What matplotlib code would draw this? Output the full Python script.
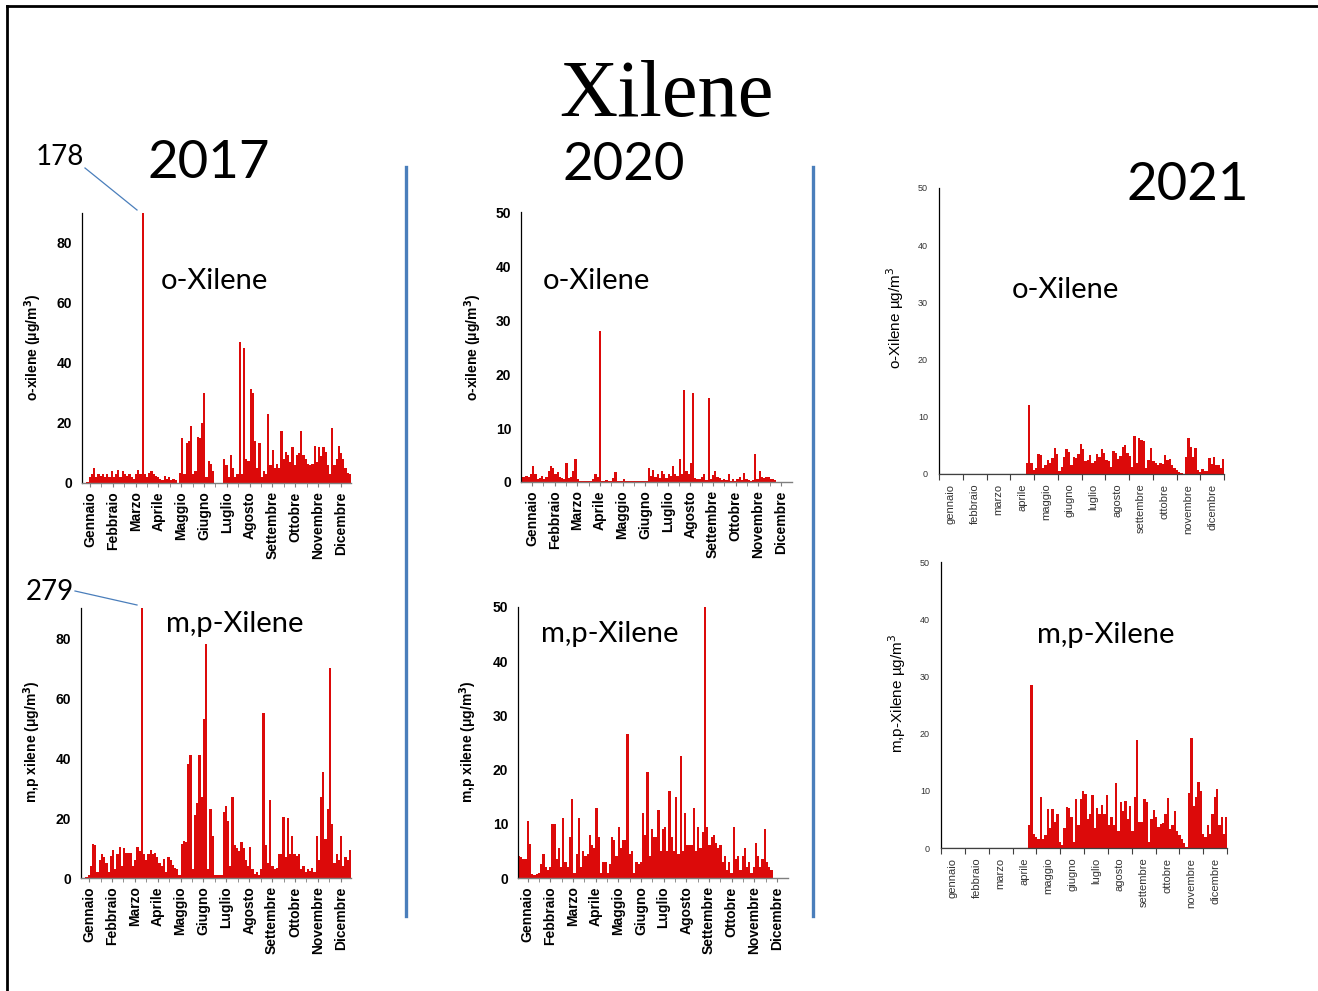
import numpy as np
import matplotlib
matplotlib.use("Agg")
import matplotlib.pyplot as plt
from matplotlib.lines import Line2D

# ---------------- data (3-day bins, µg/m3) ----------------
months_2017 = ['Gennaio', 'Febbraio', 'Marzo', 'Aprile', 'Maggio', 'Giugno',
               'Luglio', 'Agosto', 'Settembre', 'Ottobre', 'Novembre', 'Dicembre']
months_2021 = ['gennaio', 'febbraio', 'marzo', 'aprile', 'maggio', 'giugno',
               'luglio', 'agosto', 'settembre', 'ottobre', 'novembre', 'dicembre']

o_xyl_2017 = [0, 0, 0.5, 2, 3, 5, 2, 3, 2.5, 3, 2, 3, 2, 4, 2, 3, 4.5, 2, 4, 3,
              2.5, 3, 2, 1.5, 3, 4.5, 3, 178, 3, 2, 3.5, 4, 3, 2.5, 2, 1.5, 1, 2.5, 1.5, 2,
              1, 1.5, 1, 0, 3.5, 15, 3, 13.5, 14, 19, 3, 4, 15.5, 15, 20, 30, 2, 7.5, 6.5, 4,
              0, 0, 0, 0, 8, 6, 2, 9.5, 5, 2, 3, 47, 3, 45, 8, 7.5, 31.5, 30, 14, 5,
              13.5, 2, 4, 3, 23, 6, 11, 5, 6.5, 5, 17.5, 8, 10.5, 9.5, 7, 12, 6, 9.5, 10, 17.5,
              9.5, 8, 6.5, 6, 6.5, 12.5, 7, 12, 9, 12, 10.5, 6, 3, 18.5, 6, 8, 12.5, 10, 8, 5,
              3.5, 3]

mp_xyl_2017 = [0, 0, 0.5, 1, 4, 11.5, 11, 2, 6, 8, 7, 5, 2, 7.5, 9.5, 3, 8, 10.5, 4, 10,
               8.5, 8.5, 8.5, 4, 6, 10.5, 9, 279, 8, 6, 8, 9.5, 8, 8.5, 7, 5, 4, 6.5, 2, 7,
               6, 4.5, 3.5, 3, 1, 11.5, 12.5, 12, 38, 41, 3, 21, 25, 41, 27, 53, 78, 3, 23, 14,
               1, 1, 1, 1, 22, 24, 19, 4, 27, 11, 10, 9, 12, 10, 6, 4, 10.5, 3, 1.5, 2,
               1, 3, 55, 11, 5, 26, 4, 3, 3.5, 8, 8, 20.5, 7, 20, 8, 14, 8, 7.5, 8, 3,
               4, 2, 3, 2.5, 3.5, 2, 14, 6, 27, 35.5, 13, 23, 70, 18, 5, 8, 6, 14, 4, 7,
               6, 9.5]

o_xyl_2020 = [1, 1, 1.2, 1, 1.5, 3, 1.5, 0.5, 0.8, 1.2, 0.6, 1, 2, 3, 2.6, 1.5, 1.8, 1, 0.7, 0.5,
              3.6, 0.8, 1, 2, 4.3, 0.5, 0.2, 0.1, 0.1, 0.1, 0.1, 0.2, 0.5, 1.5, 1, 28, 0.2, 0.1, 0.3, 0.1,
              0.1, 0.8, 1.8, 0.2, 0.1, 0.1, 0.5, 0.1, 0.1, 0.1, 0.1, 0.1, 0.1, 0.1, 0.1, 0.1, 0.1, 2.5, 1.2, 2.3,
              1, 1.5, 0.8, 2.1, 1.4, 0.8, 1.5, 1.2, 3, 1.5, 1.2, 4.2, 1.5, 17, 2, 1.5, 3.5, 16.5, 0.8, 0.6,
              0.6, 1, 1.5, 0.4, 15.5, 0.5, 1.3, 2, 1, 0.8, 0.4, 0.6, 0.3, 1.5, 0.2, 0.5, 0.1, 0.5, 1, 0.3,
              1.7, 0.6, 0.4, 0.2, 0.3, 5.2, 0.5, 2, 1, 0.8, 0.9, 1, 0.5, 0.5, 0.4, 0, 0, 0, 0, 0,
              0, 0]

mp_xyl_2020 = [4, 3.8, 3.5, 3.5, 10.5, 6.3, 0.7, 0.5, 0.8, 1, 2.5, 4.5, 2, 1.5, 2, 10, 10, 3.5, 5.5, 2,
               11, 3, 2, 7.5, 14.5, 1, 4.5, 11, 2, 5, 4, 4.5, 8, 6, 5.5, 13, 7.5, 1, 3, 3,
               1, 2.5, 7.5, 7, 4, 9.5, 5.5, 7, 7, 26.5, 4.5, 5, 1, 3, 2.5, 3, 12, 8, 19.5, 4,
               9, 7.5, 7.5, 12.5, 5, 9, 9.5, 5, 16, 7.5, 5, 15, 4.5, 22.5, 5, 12, 6, 6, 6, 13,
               5, 9.5, 5.5, 8.5, 50, 9.5, 6, 7.5, 8, 6.5, 5.5, 6, 3, 4, 1.5, 3, 1, 9.5, 3.5, 4,
               1.5, 4, 5.5, 2, 3, 1, 2, 6.5, 4, 2, 3.5, 9, 3, 2, 1.5, 0, 0, 0, 0, 0,
               0, 0]

o_xyl_2021 = [0, 0, 0, 0, 0, 0, 0, 0, 0, 0, 0, 0, 0, 0, 0, 0, 0, 0, 0, 0,
              0, 0, 0, 0, 0, 0, 0, 0, 0, 0, 0, 0, 0, 0, 0, 0, 0, 2, 12, 2,
              0.7, 1, 3.5, 3.3, 1, 1.5, 2.4, 2, 2.8, 4.6, 3.5, 0.5, 1.2, 3, 4.3, 3.8, 1.5, 3, 2.8, 3.5,
              5.3, 4.3, 2.2, 2.5, 3.3, 2, 2.3, 3.5, 3, 4.3, 3.6, 2.5, 2.3, 1.2, 4, 3.6, 2.6, 3.2, 4.7, 5.1,
              3.7, 3.2, 1.2, 6.6, 2, 6.3, 6, 5.8, 1, 2.5, 4.5, 2.2, 2, 1.5, 2, 1.8, 3.3, 2.5, 2.7, 1.5,
              1, 0.7, 0.4, 0.1, 0, 3, 6.3, 4.7, 3, 4.5, 0.7, 0.4, 0.8, 0.5, 0.5, 2.8, 1.8, 3, 1.5, 1.5,
              1, 2.7]

mp_xyl_2021 = [0, 0, 0, 0, 0, 0, 0, 0, 0, 0, 0, 0, 0, 0, 0, 0, 0, 0, 0, 0,
               0, 0, 0, 0, 0, 0, 0, 0, 0, 0, 0, 0, 0, 0, 0, 0, 0, 4, 28.5, 2.5,
               2, 1.5, 9, 1.5, 2.2, 6.8, 3.5, 6.8, 4.5, 6, 1, 0.5, 3.5, 7.2, 7, 5.5, 1, 8.5, 4, 8.5,
               10, 9.5, 5, 6, 9.3, 3.5, 7, 6, 7.5, 6, 9.3, 4, 5.5, 4, 11.3, 3, 8, 6.5, 8.3, 5,
               7.4, 3, 9, 18.8, 4.6, 4.5, 8.5, 8, 1, 5, 6.7, 5.5, 3.7, 4.2, 4.3, 6, 8.7, 3.3, 4, 6.5,
               3, 2.2, 1.5, 0.8, 0.2, 9.7, 19.3, 7.4, 9, 11.6, 10, 2.5, 2, 4, 2.5, 6, 9, 10.3, 4, 5.5,
               2.5, 5.5]

# ---------------- layout ----------------
W, H = 1318, 991
RED = '#DC0A0A'
BLUE = '#4A7EBB'
fig = plt.figure(figsize=(W / 100, H / 100), dpi=100)


def rect(l, t, r, b):
    return [l / W, 1 - b / H, (r - l) / W, (b - t) / H]


def ftext(x, y, s, **kw):
    fig.text(x / W, 1 - y / H, s, **kw)


BIN = 3


def bars(ax, vals):
    x = np.arange(len(vals)) * BIN
    ax.bar(x, vals, width=BIN, align='edge', color=RED, linewidth=0)


def style_old(ax, vals, ymax, ystep, lab0, lab1, ylabel_xy, ylabel):
    bars(ax, vals)
    ax.set_xlim(0, 366)
    ax.set_ylim(0, ymax)
    for s in ['top', 'right']:
        ax.spines[s].set_visible(False)
    ax.spines['left'].set_color('black')
    ax.spines['left'].set_linewidth(0.9)
    ax.spines['bottom'].set_color('#7f7f7f')
    ax.spines['bottom'].set_linewidth(1.0)
    ax.set_yticks(np.arange(0, 81 if ymax == 90 else ymax + 1, ystep))
    ax.tick_params(axis='y', length=0, pad=7)
    for t in ax.get_yticklabels():
        t.set_fontfamily('Liberation Sans')
        t.set_fontweight('bold')
        t.set_fontsize(10)
    pos = np.linspace(lab0, lab1, 12)
    ax.set_xticks(pos)
    ax.set_xticks((pos[:-1] + pos[1:]) / 2, minor=True)
    ax.set_xticklabels(months_2017, rotation=90, fontfamily='Liberation Sans',
                       fontweight='bold', fontsize=10)
    ax.tick_params(axis='x', which='both', length=3, color='#7f7f7f', pad=3)
    ftext(ylabel_xy[0], ylabel_xy[1], ylabel, rotation=90, ha='center', va='center',
          fontfamily='Liberation Sans', fontweight='bold', fontsize=10)


def style_new(ax, vals, ylabel_xy, ylabel):
    bars(ax, vals)
    ax.axhline(0, color='#a0a0a0', lw=1.0, zorder=0)
    ax.set_xlim(0, 365)
    ax.set_ylim(0, 50)
    for s in ['top', 'right']:
        ax.spines[s].set_visible(False)
    ax.spines['left'].set_color('black')
    ax.spines['left'].set_linewidth(0.9)
    ax.spines['bottom'].set_color('#404040')
    ax.spines['bottom'].set_linewidth(0.9)
    ax.set_yticks(np.arange(0, 51, 10))
    ax.tick_params(axis='y', length=0, pad=8, labelsize=6.5, labelcolor='#333333')
    edges = np.linspace(0, 365, 13)
    ax.set_xticks(edges)
    ax.set_xticklabels([])
    ax.set_xticks((edges[:-1] + edges[1:]) / 2, minor=True)
    ax.set_xticklabels(months_2021, minor=True, rotation=90, fontfamily='Liberation Sans',
                       fontsize=8, color='#333333')
    ax.tick_params(axis='x', which='major', length=4, color='#404040')
    ax.tick_params(axis='x', which='minor', length=0, pad=7)
    for t in ax.get_yticklabels():
        t.set_fontfamily('Liberation Sans')
    ftext(ylabel_xy[0], ylabel_xy[1], ylabel, rotation=90, ha='center', va='center',
          fontfamily='Liberation Sans', fontsize=11)


ax1 = fig.add_axes(rect(82, 213, 351, 483))
style_old(ax1, o_xyl_2017, 90, 20, 11, 352, (33, 347), r'o-xilene (μg/m$^{\mathbf{3}}$)')
ax2 = fig.add_axes(rect(81, 608, 351, 878))
style_old(ax2, mp_xyl_2017, 90, 20, 11, 352, (32, 742), r'm,p xilene (μg/m$^{\mathbf{3}}$)')
ax3 = fig.add_axes(rect(521, 212, 792, 482))
style_old(ax3, o_xyl_2020, 50, 10, 15, 351, (473, 347), r'o-xilene (μg/m$^{\mathbf{3}}$)')
ax4 = fig.add_axes(rect(518, 607, 788, 878))
style_old(ax4, mp_xyl_2020, 50, 10, 13, 351, (468, 742), r'm,p xilene (μg/m$^{\mathbf{3}}$)')
ax5 = fig.add_axes(rect(939, 188, 1224, 474))
style_new(ax5, o_xyl_2021, (895, 318), r'o-Xilene µg/m$^{3}$')
ax6 = fig.add_axes(rect(941, 562, 1227, 848))
style_new(ax6, mp_xyl_2021, (897, 693), r'm,p-Xilene µg/m$^{3}$')

# ---------------- texts ----------------
SANS = 'Lato'
ftext(666, 116, 'Xilene', ha='center', va='baseline', fontfamily='Liberation Serif', fontsize=58)
ftext(209, 178, '2017', ha='center', va='baseline', fontfamily=SANS, fontsize=38)
ftext(624, 180, '2020', ha='center', va='baseline', fontfamily=SANS, fontsize=38)
ftext(1188, 200, '2021', ha='center', va='baseline', fontfamily=SANS, fontsize=38)
ftext(60, 165, '178', ha='center', va='baseline', fontfamily=SANS, fontsize=20)
ftext(50, 600, '279', ha='center', va='baseline', fontfamily=SANS, fontsize=20)

for (x, y, s) in [(214, 289, 'o-Xilene'), (235, 632, 'm,p-Xilene'), (596, 289, 'o-Xilene'),
                  (610, 642, 'm,p-Xilene'), (1065, 298, 'o-Xilene'), (1106, 643, 'm,p-Xilene')]:
    ftext(x, y, s, ha='center', va='baseline', fontfamily=SANS, fontsize=21)


def fline(xs, ys, **kw):
    fig.add_artist(Line2D([x / W for x in xs], [1 - y / H for y in ys],
                          transform=fig.transFigure, **kw))


fline([85, 137], [168, 210], color=BLUE, lw=0.9)
fline([75, 137], [591, 605], color=BLUE, lw=0.9)
fline([406, 406], [167, 916], color=BLUE, lw=2.4)
fline([813, 813], [167, 916], color=BLUE, lw=2.4)
# frame
fline([7, 1318], [6, 6], color='black', lw=2.0)
fline([7, 7], [6, 991], color='black', lw=2.0)

fig.savefig('out.png', dpi=100)
